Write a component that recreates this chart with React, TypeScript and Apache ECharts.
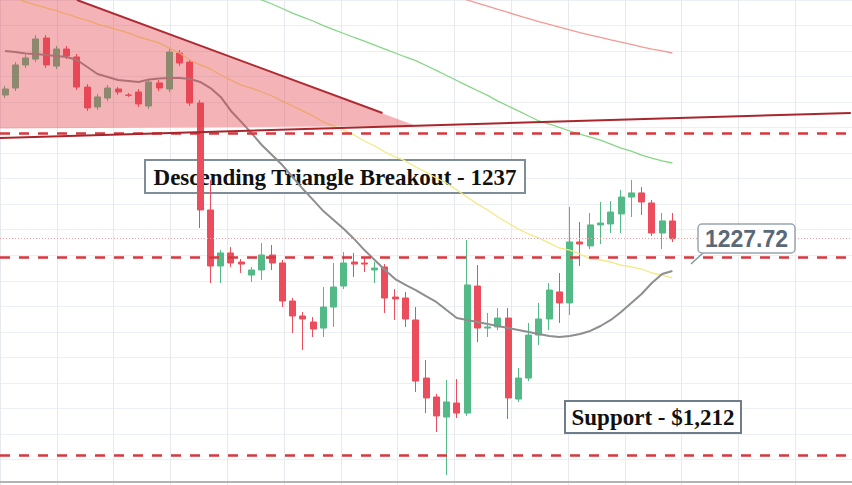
import React, { useEffect, useRef } from "react";
import * as echarts from "echarts";

// ---- data ----
const categories: string[] = Array.from({ length: 83 }, (_, i) => String(i + 1));

const opens = [
  1238.18, 1238.69, 1240.37, 1240.80, 1242.33, 1240.29, 1241.53, 1240.95, 1238.76, 1237.31,
  1237.96, 1238.62, 1238.18, 1238.40, 1237.38, 1239.06, 1238.62, 1241.24, 1240.58, 1237.60,
  1229.81, 1225.73, 1226.68, 1226.02, 1225.07, 1225.44, 1226.53, 1225.95, 1223.18, 1222.09,
  1221.65, 1221.21, 1222.74, 1224.27, 1226.02, 1225.95, 1225.44, 1225.66, 1223.47, 1223.40,
  1221.80, 1217.57, 1216.19, 1214.73, 1215.75, 1215.02, 1224.27, 1221.21, 1221.29, 1221.94,
  1216.04, 1217.57, 1220.70, 1221.87, 1223.84, 1223.04, 1227.48, 1227.19, 1228.72, 1228.79,
  1229.52, 1230.75, 1231.05, 1230.32, 1228.13, 1229.01,
];
const closes = [
  1238.62, 1240.37, 1240.88, 1242.26, 1240.37, 1241.53, 1241.02, 1238.76, 1237.24, 1238.04,
  1238.69, 1238.40, 1238.16, 1237.53, 1239.13, 1238.69, 1241.31, 1240.51, 1237.60, 1229.81,
  1225.73, 1226.68, 1225.95, 1225.87, 1225.44, 1226.53, 1225.95, 1223.18, 1222.09, 1221.87,
  1221.14, 1222.74, 1224.20, 1225.95, 1225.87, 1225.87, 1225.58, 1223.40, 1223.33, 1221.87,
  1217.35, 1216.12, 1214.81, 1215.83, 1215.02, 1224.35, 1221.21, 1221.29, 1221.94, 1216.12,
  1217.57, 1220.70, 1221.87, 1223.98, 1223.04, 1227.48, 1227.33, 1228.72, 1228.86, 1229.66,
  1230.75, 1231.05, 1230.39, 1228.13, 1229.01, 1227.72,
];
const lows = [
  1237.96, 1238.47, 1240.15, 1240.58, 1240.15, 1240.08, 1240.80, 1238.55, 1237.02, 1237.09,
  1237.74, 1238.18, 1238.04, 1237.31, 1237.16, 1238.47, 1238.40, 1240.29, 1237.38, 1228.50,
  1224.49, 1224.49, 1225.66, 1225.22, 1224.56, 1224.71, 1225.44, 1222.74, 1220.85, 1219.61,
  1220.56, 1220.56, 1221.29, 1224.05, 1224.93, 1225.29, 1224.49, 1222.31, 1221.80, 1221.29,
  1216.55, 1215.02, 1213.64, 1210.51, 1214.66, 1214.81, 1220.19, 1220.56, 1221.07, 1214.59,
  1215.83, 1217.35, 1219.98, 1221.07, 1221.58, 1222.16, 1225.73, 1226.97, 1227.33, 1228.13,
  1228.13, 1229.30, 1229.44, 1227.91, 1226.97, 1227.48,
];
const highs = [
  1238.84, 1240.58, 1241.09, 1242.55, 1242.55, 1241.75, 1241.75, 1241.17, 1238.98, 1238.26,
  1238.91, 1238.76, 1238.33, 1238.62, 1239.35, 1239.27, 1241.53, 1241.46, 1240.80, 1237.82,
  1231.99, 1226.89, 1227.11, 1226.24, 1225.66, 1227.40, 1227.26, 1226.17, 1223.40, 1222.38,
  1222.01, 1224.20, 1225.95, 1226.75, 1226.68, 1226.38, 1226.02, 1225.87, 1224.05, 1223.84,
  1222.74, 1218.88, 1216.41, 1217.43, 1217.50, 1227.62, 1225.80, 1222.31, 1222.67, 1222.67,
  1218.30, 1221.58, 1223.04, 1224.49, 1225.22, 1230.03, 1228.93, 1229.59, 1230.39, 1230.46,
  1231.26, 1231.99, 1231.48, 1230.54, 1229.59, 1229.59,
];

const maGray = [
  1241.39, 1241.31, 1241.20, 1241.17, 1241.09, 1241.02, 1240.95, 1240.73, 1240.22, 1239.71,
  1239.49, 1239.27, 1239.20, 1239.13, 1239.31, 1239.38, 1239.42, 1239.42, 1239.35, 1239.13,
  1238.69, 1238.04, 1237.02, 1236.22, 1235.41, 1234.54, 1233.81, 1233.08, 1232.21, 1231.34,
  1230.54, 1229.73, 1229.08, 1228.42, 1227.70, 1226.89, 1226.17, 1225.44, 1224.78, 1224.35,
  1223.98, 1223.54, 1223.11, 1222.52, 1221.94, 1221.80, 1221.65, 1221.51, 1221.36, 1221.21,
  1221.07, 1220.92, 1220.78, 1220.63, 1220.56, 1220.63, 1220.78, 1221.00, 1221.36, 1221.80,
  1222.38, 1223.04, 1223.69, 1224.49, 1225.15, 1225.37,
];
const maYellow = [
  1245.46, 1245.25, 1244.95, 1244.74, 1244.52, 1244.30, 1244.08, 1243.83, 1243.61, 1243.35,
  1243.13, 1242.92, 1242.70, 1242.41, 1242.19, 1241.97, 1241.60, 1241.24, 1240.73, 1240.37,
  1240.08, 1239.64, 1239.27, 1238.91, 1238.69, 1238.40, 1238.11, 1237.74, 1237.38, 1237.02,
  1236.65, 1236.22, 1235.92, 1235.63, 1235.27, 1234.83, 1234.47, 1234.03, 1233.67, 1233.38,
  1232.94, 1232.57, 1232.14, 1231.77, 1231.26, 1230.75, 1230.24, 1229.81, 1229.30, 1228.86,
  1228.42, 1228.06, 1227.77, 1227.40, 1227.04, 1226.89, 1226.60, 1226.24, 1226.17, 1226.02,
  1225.80, 1225.66, 1225.51, 1225.22, 1225.07, 1224.86,
];
const maGreen = [
  null, null, null, null, null, null, null, null, null, null,
  null, null, null, null, null, null, null, null, null, null,
  null, null, null, 1245.68, 1245.39, 1245.10, 1244.81, 1244.48, 1244.15, 1243.86,
  1243.57, 1243.24, 1242.95, 1242.66, 1242.37, 1242.11, 1241.82, 1241.53, 1241.24, 1240.95,
  1240.69, 1240.33, 1239.97, 1239.60, 1239.24, 1238.87, 1238.51, 1238.15, 1237.74, 1237.38,
  1237.02, 1236.65, 1236.29, 1236.07, 1235.82, 1235.56, 1235.34, 1235.12, 1234.90, 1234.61,
  1234.32, 1234.10, 1233.81, 1233.59, 1233.38, 1233.23,
];
const maRed = [
  null, null, null, null, null, null, null, null, null, null,
  null, null, null, null, null, null, null, null, null, null,
  null, null, null, null, null, null, null, null, null, null,
  null, null, null, null, null, null, null, null, null, null,
  null, null, null, null, 1245.32, 1245.10, 1244.88, 1244.66, 1244.41, 1244.19,
  1243.97, 1243.75, 1243.53, 1243.32, 1243.13, 1242.92, 1242.73, 1242.55, 1242.37, 1242.19,
  1242.04, 1241.86, 1241.68, 1241.53, 1241.39, 1241.24,
];

// drawings (x in candle-index units, y in price)
const triangleX = [-0.5, 7.0, 40.06, -0.5];
const triangleY = [1245.1, 1245.1, 1235.92, 1235.74];
const resistanceX = [7.0, 36.76];
const resistanceY = [1245.1, 1236.87];
const risingX = [-0.5, 82.38];
const risingY = [1235.05, 1236.87];
const dashedLevels = [1235.41, 1226.38, 1211.97];
const lastPrice = 1227.72;

export default function App() {
  const ref = useRef<HTMLDivElement>(null);

  useEffect(() => {
    if (!ref.current) return;
    const chart = echarts.init(ref.current, null, { renderer: "svg" });
    const candleData = opens.map((o, i) => [o, closes[i], lows[i], highs[i]]);
    const hidden = {
      axisLine: { show: false },
      axisTick: { show: false },
      axisLabel: { show: false },
    };
    const option: any = {
      animation: false,
      backgroundColor: "#ffffff",
      grid: [
        { left: 0, top: 0, width: 853.24, height: 482 },
        { left: -46.2, top: -4.6, width: 925.5, height: 497.8 },
      ],
      xAxis: [
        {
          type: "category",
          gridIndex: 0,
          data: categories,
          boundaryGap: true,
          axisLine: { show: true, lineStyle: { color: "#b3b3b3", width: 2 } },
          axisTick: { show: false },
          axisLabel: { show: false },
          splitLine: { show: false },
        },
        { type: "value", gridIndex: 0, min: -0.5, max: 82.5, show: false },
        {
          type: "value",
          gridIndex: 1,
          min: 0,
          max: 15,
          interval: 1,
          ...hidden,
          splitLine: { show: true, lineStyle: { color: "#e6eaef", width: 1 } },
        },
      ],
      yAxis: [
        { type: "value", gridIndex: 0, min: 1210, max: 1245.1, show: false },
        {
          type: "value",
          gridIndex: 1,
          min: 0,
          max: 19,
          interval: 1,
          ...hidden,
          splitLine: { show: true, lineStyle: { color: "#eceff3", width: 1 } },
        },
      ],
      series: [
        {
          type: "candlestick",
          xAxisIndex: 0,
          yAxisIndex: 0,
          data: candleData,
          barWidth: 6.5,
          z: 2,
          itemStyle: {
            color: "#53b987",
            color0: "#eb4d5c",
            borderColor: "#53b987",
            borderColor0: "#eb4d5c",
            borderWidth: 1,
          },
          markLine: {
            silent: true,
            symbol: ["none", "none"],
            label: { show: false },
            data: [
              ...dashedLevels.map((v) => ({
                yAxis: v,
                lineStyle: { color: "#d7383f", width: 2.5, type: [10, 9] },
              })),
              {
                yAxis: lastPrice,
                lineStyle: { color: "#e9a1a3", width: 1, type: [1, 2] },
              },
            ],
          },
        },
        {
          type: "line",
          data: maYellow,
          symbol: "none",
          z: 3,
          lineStyle: { color: "#f3e981", width: 1.3 },
        },
        {
          type: "line",
          data: maGreen,
          symbol: "none",
          z: 3,
          lineStyle: { color: "#86d686", width: 1.3 },
        },
        {
          type: "line",
          data: maRed,
          symbol: "none",
          z: 3,
          lineStyle: { color: "#f39a95", width: 1.3 },
        },
        {
          type: "line",
          data: maGray,
          symbol: "none",
          z: 3,
          lineStyle: { color: "#8e8e8e", width: 2 },
        },
        {
          type: "custom",
          xAxisIndex: 1,
          yAxisIndex: 0,
          silent: true,
          z: 4,
          data: [[0, 1240]],
          renderItem: (_params: any, api: any) => ({
            type: "polygon",
            shape: {
              points: triangleX.map((x, i) => api.coord([x, triangleY[i]])),
            },
            style: { fill: "rgba(228,64,76,0.4)" },
          }),
        },
        {
          type: "line",
          xAxisIndex: 1,
          yAxisIndex: 0,
          data: resistanceX.map((x, i) => [x, resistanceY[i]]),
          symbol: "none",
          z: 5,
          lineStyle: { color: "#ad2b33", width: 2 },
        },
        {
          type: "line",
          xAxisIndex: 1,
          yAxisIndex: 0,
          data: risingX.map((x, i) => [x, risingY[i]]),
          symbol: "none",
          z: 5,
          lineStyle: { color: "#a9262d", width: 2 },
        },
      ],
      graphic: [
        {
          type: "rect",
          z: 1,
          shape: { x: 145, y: 160, width: 380, height: 33 },
          style: { fill: "#ffffff", stroke: "#7f8c99", lineWidth: 2 },
        },
        {
          type: "text",
          z: 1,
          x: 335,
          y: 177,
          style: {
            text: "Descending Triangle Breakout - 1237",
            font: 'bold 23px "Liberation Serif"',
            fill: "#111111",
            align: "center",
            verticalAlign: "middle",
            textAlign: "center",
            textVerticalAlign: "middle",
          },
        },
        {
          type: "rect",
          z: 10,
          shape: { x: 565, y: 401, width: 176, height: 32 },
          style: { fill: "#ffffff", stroke: "#6f7d8b", lineWidth: 2 },
        },
        {
          type: "text",
          z: 10,
          x: 653,
          y: 417,
          style: {
            text: "Support - $1,212",
            font: 'bold 23px "Liberation Serif"',
            fill: "#111111",
            align: "center",
            verticalAlign: "middle",
            textAlign: "center",
            textVerticalAlign: "middle",
          },
        },
        {
          type: "polyline",
          z: 10,
          shape: { points: [[704, 252], [691, 264]] },
          style: { stroke: "#8d97a1", lineWidth: 1.5, fill: null },
        },
        {
          type: "rect",
          z: 10,
          shape: { x: 698, y: 224, width: 97, height: 29, r: 4 },
          style: { fill: "#ffffff", stroke: "#9ba5af", lineWidth: 1.5 },
        },
        {
          type: "text",
          z: 10,
          x: 746.5,
          y: 239,
          style: {
            text: "1227.72",
            font: 'bold 23px "Liberation Sans"',
            fill: "#5a6878",
            align: "center",
            verticalAlign: "middle",
            textAlign: "center",
            textVerticalAlign: "middle",
          },
        },
      ],
    };
    chart.setOption(option);
    return () => chart.dispose();
  }, []);

  return (
    <div
      ref={ref}
      style={{ position: "fixed", left: 0, top: 0, width: 852, height: 485 }}
    />
  );
}
